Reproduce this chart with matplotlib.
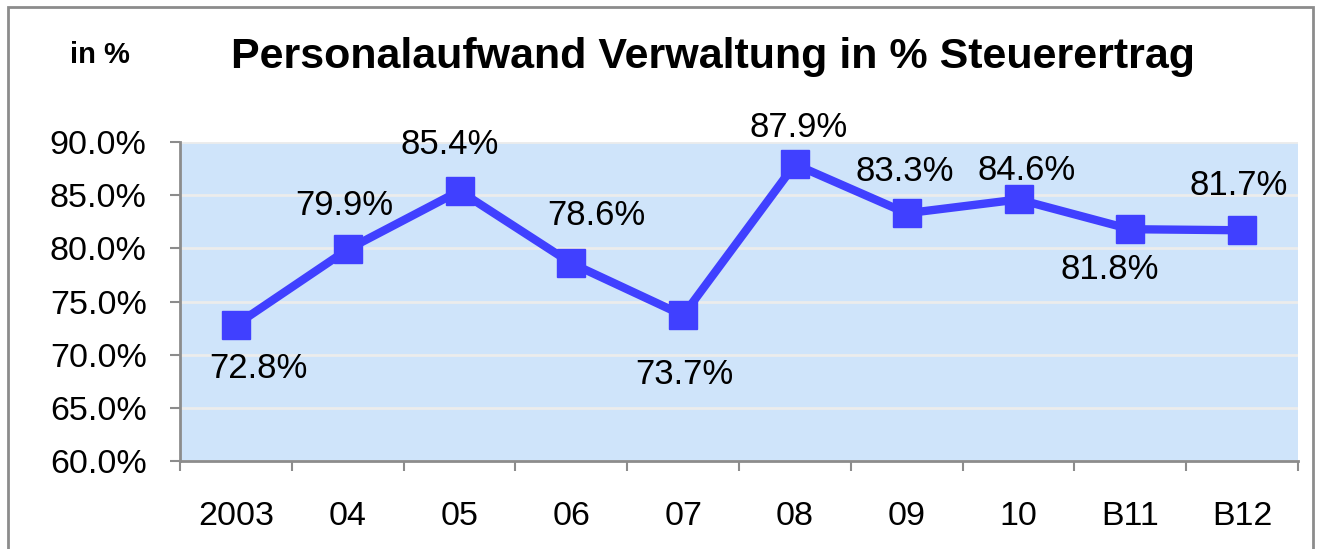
import matplotlib.pyplot as plt
from matplotlib.patches import Rectangle

plt.rcParams['font.family'] = ['Liberation Sans', 'DejaVu Sans']

years = ["2003", "04", "05", "06", "07", "08", "09", "10", "B11", "B12"]
values = [72.8, 79.9, 85.4, 78.6, 73.7, 87.9, 83.3, 84.6, 81.8, 81.7]

# label offsets from the marker, in pixels (as placed in the original chart)
label_dx = [22, -3, -10, 25, 1, 4, -2, 8, -21, -3]
label_dy = [-42, 46, 48, 50, -57, 39, 44, 31, -38, 47]

fig = plt.figure(figsize=(13.21, 5.49), dpi=100)
ax = fig.add_axes([0.1363, 0.1603, 0.9826 - 0.1363, 0.7413 - 0.1603])

# frame around whole chart
fig.patches.append(Rectangle((8 / 1321, -0.05), (1313 - 8) / 1321, 1.05 - 7 / 549,
                             transform=fig.transFigure, fill=False,
                             edgecolor="#8c8c8c", linewidth=2))

ax.set_facecolor("#cfe4fa")
x = list(range(len(years)))
ax.plot(x, values, color="#4040ff", linewidth=6, marker="s", markersize=20,
        markerfacecolor="#4040ff", markeredgecolor="#4040ff", zorder=3)

for xi, v, dx, dy in zip(x, values, label_dx, label_dy):
    ax.annotate(f"{v:.1f}%", (xi, v), xytext=(dx, dy - 2), textcoords="offset pixels",
                ha="center", va="center", fontsize=25, color="black")

ax.set_ylim(60, 90)
ax.set_xlim(-0.5, len(years) - 0.5)
ax.set_yticks([60, 65, 70, 75, 80, 85, 90])
ax.set_yticklabels([f"{t:.1f}%" for t in [60, 65, 70, 75, 80, 85, 90]], fontsize=24.5)
ax.yaxis.grid(True, color="#ececec", linewidth=2)
ax.set_axisbelow(True)

# ticks at category boundaries, labels at centers
ax.set_xticks([i - 0.5 for i in range(len(years) + 1)])
ax.set_xticklabels([])
ax.set_xticks(x, minor=True)
ax.set_xticklabels(years, minor=True, fontsize=24.5)
ax.tick_params(axis="x", which="minor", length=0, pad=29)
ax.tick_params(axis="x", which="major", length=7, width=1.5, color="#8c8c8c")
ax.tick_params(axis="y", length=7, width=1.5, color="#8c8c8c", pad=17)

for s in ["top", "right"]:
    ax.spines[s].set_visible(False)
for s in ["left", "bottom"]:
    ax.spines[s].set_color("#8c8c8c")
    ax.spines[s].set_linewidth(2)

fig.text(713 / 1321, 1 - 57 / 549, "Personalaufwand Verwaltung in % Steuerertrag",
         ha="center", va="center", fontsize=31, fontweight="bold")
fig.text(100 / 1321, 1 - 55 / 549, "in %", ha="center", va="center",
         fontsize=21, fontweight="bold")

fig.savefig("out.png", dpi=100)
